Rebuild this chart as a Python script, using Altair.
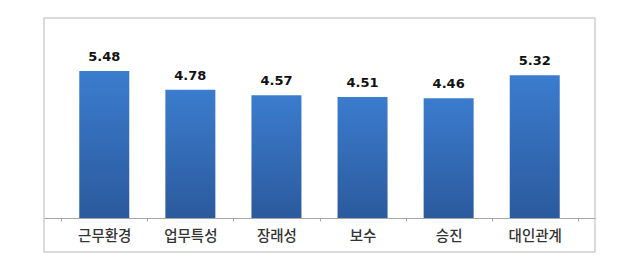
import altair as alt
import pandas as pd

categories = ["근무환경", "업무특성", "장래성", "보수", "승진", "대인관계"]
values = [5.48, 4.78, 4.57, 4.51, 4.46, 5.32]
labels = ["5.48", "4.78", "4.57", "4.51", "4.46", "5.32"]

df = pd.DataFrame({"cat": categories, "val": values, "lab": labels})

x = alt.X("cat:N", sort=categories, title=None,
          scale=alt.Scale(paddingInner=0, paddingOuter=0.2),
          axis=alt.Axis(orient="bottom", offset=-34, labelAngle=0,
                        tickBand="extent", domainColor="#a6a6a6",
                        tickColor="#a6a6a6", tickSize=3, labelPadding=8,
                        labelFont="Noto Sans CJK KR", labelFontSize=14.5,
                        labelFontWeight=500,
                        labelColor="#333333", domainWidth=1))
y = alt.Y("val:Q", scale=alt.Scale(domain=[-1.266, 7.45], nice=False, zero=False),
          axis=None)

bars = alt.Chart(df).mark_bar(
    size=50,
    color=alt.Gradient(gradient="linear",
                       stops=[alt.GradientStop(color="#3b7cce", offset=0),
                              alt.GradientStop(color="#2b5a9d", offset=1)],
                       x1=0, x2=0, y1=0, y2=1),
).encode(x=x, y=y, y2=alt.datum(0))

text = alt.Chart(df).mark_text(
    baseline="bottom", dy=-7, font="DejaVu Sans", fontWeight="bold",
    fontSize=13, color="#111111"
).encode(x=alt.X("cat:N", sort=categories), y=y, text="lab:N")

chart = alt.layer(bars, text).properties(
    width=551, height=234,
    autosize=alt.AutoSizeParams(type="none"),
    padding={"left": 44, "top": 18, "right": 45, "bottom": 15},
).configure_view(stroke="#d0d0d0", strokeWidth=1.5)

chart.save("out.html", embed_options={"renderer": "svg", "actions": False})
